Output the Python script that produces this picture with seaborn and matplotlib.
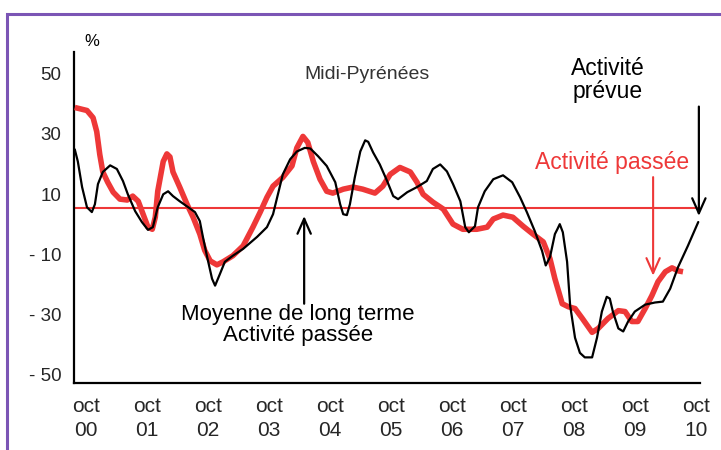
import seaborn as sns
import matplotlib.pyplot as plt
import matplotlib.transforms as mtrans
from matplotlib.patches import Rectangle

# === 1. Données (années écoulées depuis oct 2000, solde d'opinion en %) ===
passee_t = [-0.02, 0.18, 0.28, 0.34, 0.39, 0.44, 0.52, 0.61, 0.72, 0.84, 0.93, 1.02,
            1.10, 1.18, 1.25, 1.30, 1.34, 1.43, 1.49, 1.54, 1.59, 1.70, 1.82, 1.92,
            2.03, 2.11, 2.20, 2.31, 2.41, 2.57, 2.74, 2.90, 3.02, 3.13, 3.23, 3.39,
            3.54, 3.62, 3.72, 3.80, 3.89, 4.00, 4.11, 4.21, 4.38, 4.54, 4.70, 4.90,
            5.03, 5.15, 5.31, 5.48, 5.59, 5.69, 5.85, 6.02, 6.18, 6.34, 6.57, 6.74,
            6.84, 7.00, 7.16, 7.33, 7.49, 7.66, 7.77, 7.85, 7.97, 8.07, 8.18, 8.30,
            8.46, 8.56, 8.72, 8.89, 9.00, 9.11, 9.21, 9.33, 9.44, 9.54, 9.66, 9.77,
            9.87, 9.95]
passee_v = [41.4, 40.4, 38.0, 33.4, 25.8, 20.0, 16.6, 13.3, 11.0, 10.7, 12.0, 10.3,
            6.0, 1.7, 1.0, 5.0, 13.6, 23.5, 26.0, 25.0, 20.0, 15.0, 9.3, 5.0,
            -0.6, -6.0, -9.5, -10.8, -9.8, -7.8, -4.5, 1.7, 6.7, 11.6, 15.3, 18.2,
            22.0, 28.0, 31.8, 29.8, 23.5, 17.6, 13.6, 13.0, 14.3, 15.0, 14.3, 13.0,
            15.3, 19.2, 21.5, 20.0, 16.6, 12.6, 10.0, 7.7, 2.7, 1.0, 1.0, 1.7,
            4.4, 5.7, 5.0, 2.0, -0.6, -3.2, -8.8, -15.4, -23.7, -24.7, -25.3, -28.6,
            -33.2, -31.9, -28.6, -26.0, -26.3, -29.6, -29.6, -25.3, -21.0, -16.4, -13.1, -11.8,
            -12.8, -13.1]

prevue_t = [-0.02, 0.03, 0.10, 0.18, 0.26, 0.31, 0.36, 0.44, 0.56, 0.67, 0.77, 0.85,
            0.97, 1.08, 1.18, 1.26, 1.34, 1.43, 1.51, 1.59, 1.70, 1.84, 1.95, 2.03,
            2.08, 2.15, 2.23, 2.28, 2.36, 2.44, 2.57, 2.74, 2.97, 3.13, 3.23, 3.31,
            3.39, 3.51, 3.62, 3.75, 3.84, 3.97, 4.11, 4.25, 4.33, 4.38, 4.44, 4.49,
            4.57, 4.66, 4.74, 4.79, 4.87, 4.98, 5.10, 5.20, 5.28, 5.43, 5.59, 5.75,
            5.85, 5.97, 6.08, 6.18, 6.30, 6.38, 6.44, 6.54, 6.59, 6.70, 6.84, 7.00,
            7.15, 7.28, 7.39, 7.52, 7.64, 7.70, 7.77, 7.85, 7.89, 7.93, 7.98, 8.05,
            8.10, 8.18, 8.26, 8.34, 8.46, 8.54, 8.62, 8.70, 8.75, 8.80, 8.89, 8.97,
            9.05, 9.16, 9.33, 9.49, 9.62, 9.74, 9.87, 10.03, 10.20]
prevue_v = [27.5, 23.5, 15.0, 8.3, 6.7, 9.3, 16.0, 20.0, 22.2, 21.0, 17.0, 12.6,
            7.0, 3.4, 0.8, 1.7, 8.3, 12.6, 13.6, 12.0, 10.3, 8.3, 6.7, 3.7,
            -1.5, -8.2, -15.4, -17.7, -13.8, -9.8, -7.8, -5.5, -1.5, 1.7, 6.0, 12.6,
            19.2, 24.2, 26.8, 28.0, 27.8, 25.2, 22.0, 16.6, 9.3, 6.0, 5.7, 9.3,
            18.2, 26.8, 30.5, 30.0, 26.5, 22.5, 17.0, 12.0, 11.0, 13.3, 15.0, 17.0,
            21.0, 22.5, 20.2, 16.0, 10.3, 1.7, 0.0, 2.0, 8.3, 13.6, 17.6, 18.9,
            16.6, 11.6, 6.7, 0.4, -6.2, -11.0, -8.2, -0.6, 1.0, 2.7, 0.0, -9.8,
            -24.3, -35.0, -40.0, -41.5, -41.5, -35.0, -26.3, -21.4, -22.0, -26.3, -31.9, -32.9,
            -29.6, -26.3, -24.0, -23.3, -23.0, -18.7, -11.5, -4.5, 3.4]

moyenne = 8
annees = ["00", "01", "02", "03", "04", "05", "06", "07", "08", "09", "10"]
y_ticks = [50, 30, 10, -10, -30, -50]
y_labels = ["50", "30", "10", "- 10", "- 30", "- 50"]

ROUGE = "#EE3838"

# === 2. Style ===
sns.set_theme(style="white")
plt.rcParams["font.family"] = ["Liberation Sans", "DejaVu Sans"]

fig = plt.figure(figsize=(7.21, 4.5), dpi=100)
ax = fig.add_axes([0.1026, 0.1489, 0.8684, 0.7355])

# === 3. Courbes ===
ax.hlines(moyenne, -0.03, 10.2, color=ROUGE, lw=1.5, zorder=2)
sns.lineplot(x=passee_t, y=passee_v, color=ROUGE, lw=4.0, sort=False,
             estimator=None, ax=ax, zorder=3, solid_joinstyle="round", solid_capstyle="butt")
sns.lineplot(x=prevue_t, y=prevue_v, color="black", lw=1.6, sort=False,
             estimator=None, ax=ax, zorder=4, solid_joinstyle="round")

# === 4. Axes ===
ax.set_xlim(-0.033, 10.23)
ax.set_ylim(-50, 59.8)
ax.set_xticks(range(len(annees)), ["oct\n" + a for a in annees])
ax.set_yticks(y_ticks, y_labels)
ax.tick_params(axis="x", direction="in", length=4, width=1.2, color="black",
               labelsize=15, pad=10)
ax.tick_params(axis="y", direction="in", length=8, width=1.2, color="black",
               labelsize=13.5, pad=9)
for s in ["top", "right"]:
    ax.spines[s].set_visible(False)
for s in ["left", "bottom"]:
    ax.spines[s].set_color("black")
    ax.spines[s].set_linewidth(1.6)

# les étiquettes sont décalées par rapport aux graduations
for lbl in ax.get_xticklabels():
    lbl.set_transform(lbl.get_transform() + mtrans.ScaledTranslation(0.10, 0, fig.dpi_scale_trans))
    lbl.set_linespacing(1.35)
for lbl in ax.get_yticklabels():
    lbl.set_transform(lbl.get_transform() + mtrans.ScaledTranslation(0, 0.08, fig.dpi_scale_trans))

# === 5. Annotations ===
fig.text(92 / 721, 1 - 42 / 450, "%", ha="center", va="center", fontsize=12, color="black")
ax.text(4.77, 52.2, "Midi-Pyrénées", ha="center", va="center", fontsize=14, color="#333333")
ax.text(8.72, 50.6, "Activité\nprévue", ha="center", va="center", fontsize=16.5,
        color="black", linespacing=1.0)
ax.text(8.79, 23.2, "Activité passée", ha="center", va="center", fontsize=16.5, color=ROUGE)
ax.text(3.64, -30.6, "Moyenne de long terme\nActivité passée", ha="center", va="center",
        fontsize=16, color="black", linespacing=1.0)

fleche = "->, head_length=0.45, head_width=0.2"
ax.annotate("", xy=(10.21, 5.4), xytext=(10.21, 41.7),
            arrowprops=dict(arrowstyle=fleche, color="black", lw=1.6, mutation_scale=24,
                            shrinkA=0, shrinkB=0))
ax.annotate("", xy=(9.46, -14.4), xytext=(9.46, 18.3),
            arrowprops=dict(arrowstyle=fleche, color=ROUGE, lw=1.5, mutation_scale=24,
                            shrinkA=0, shrinkB=0))
ax.annotate("", xy=(3.74, 5.4), xytext=(3.74, -23.7),
            arrowprops=dict(arrowstyle=fleche, color="black", lw=1.6, mutation_scale=24,
                            shrinkA=0, shrinkB=0))

# cadre violet
fig.add_artist(Rectangle((7 / 721, -0.1), 1.2, (450 - 14) / 450 + 0.1,
                         transform=fig.transFigure, fill=False,
                         edgecolor="#7B55B5", lw=2.2))

fig.savefig("out.png", dpi=100)
